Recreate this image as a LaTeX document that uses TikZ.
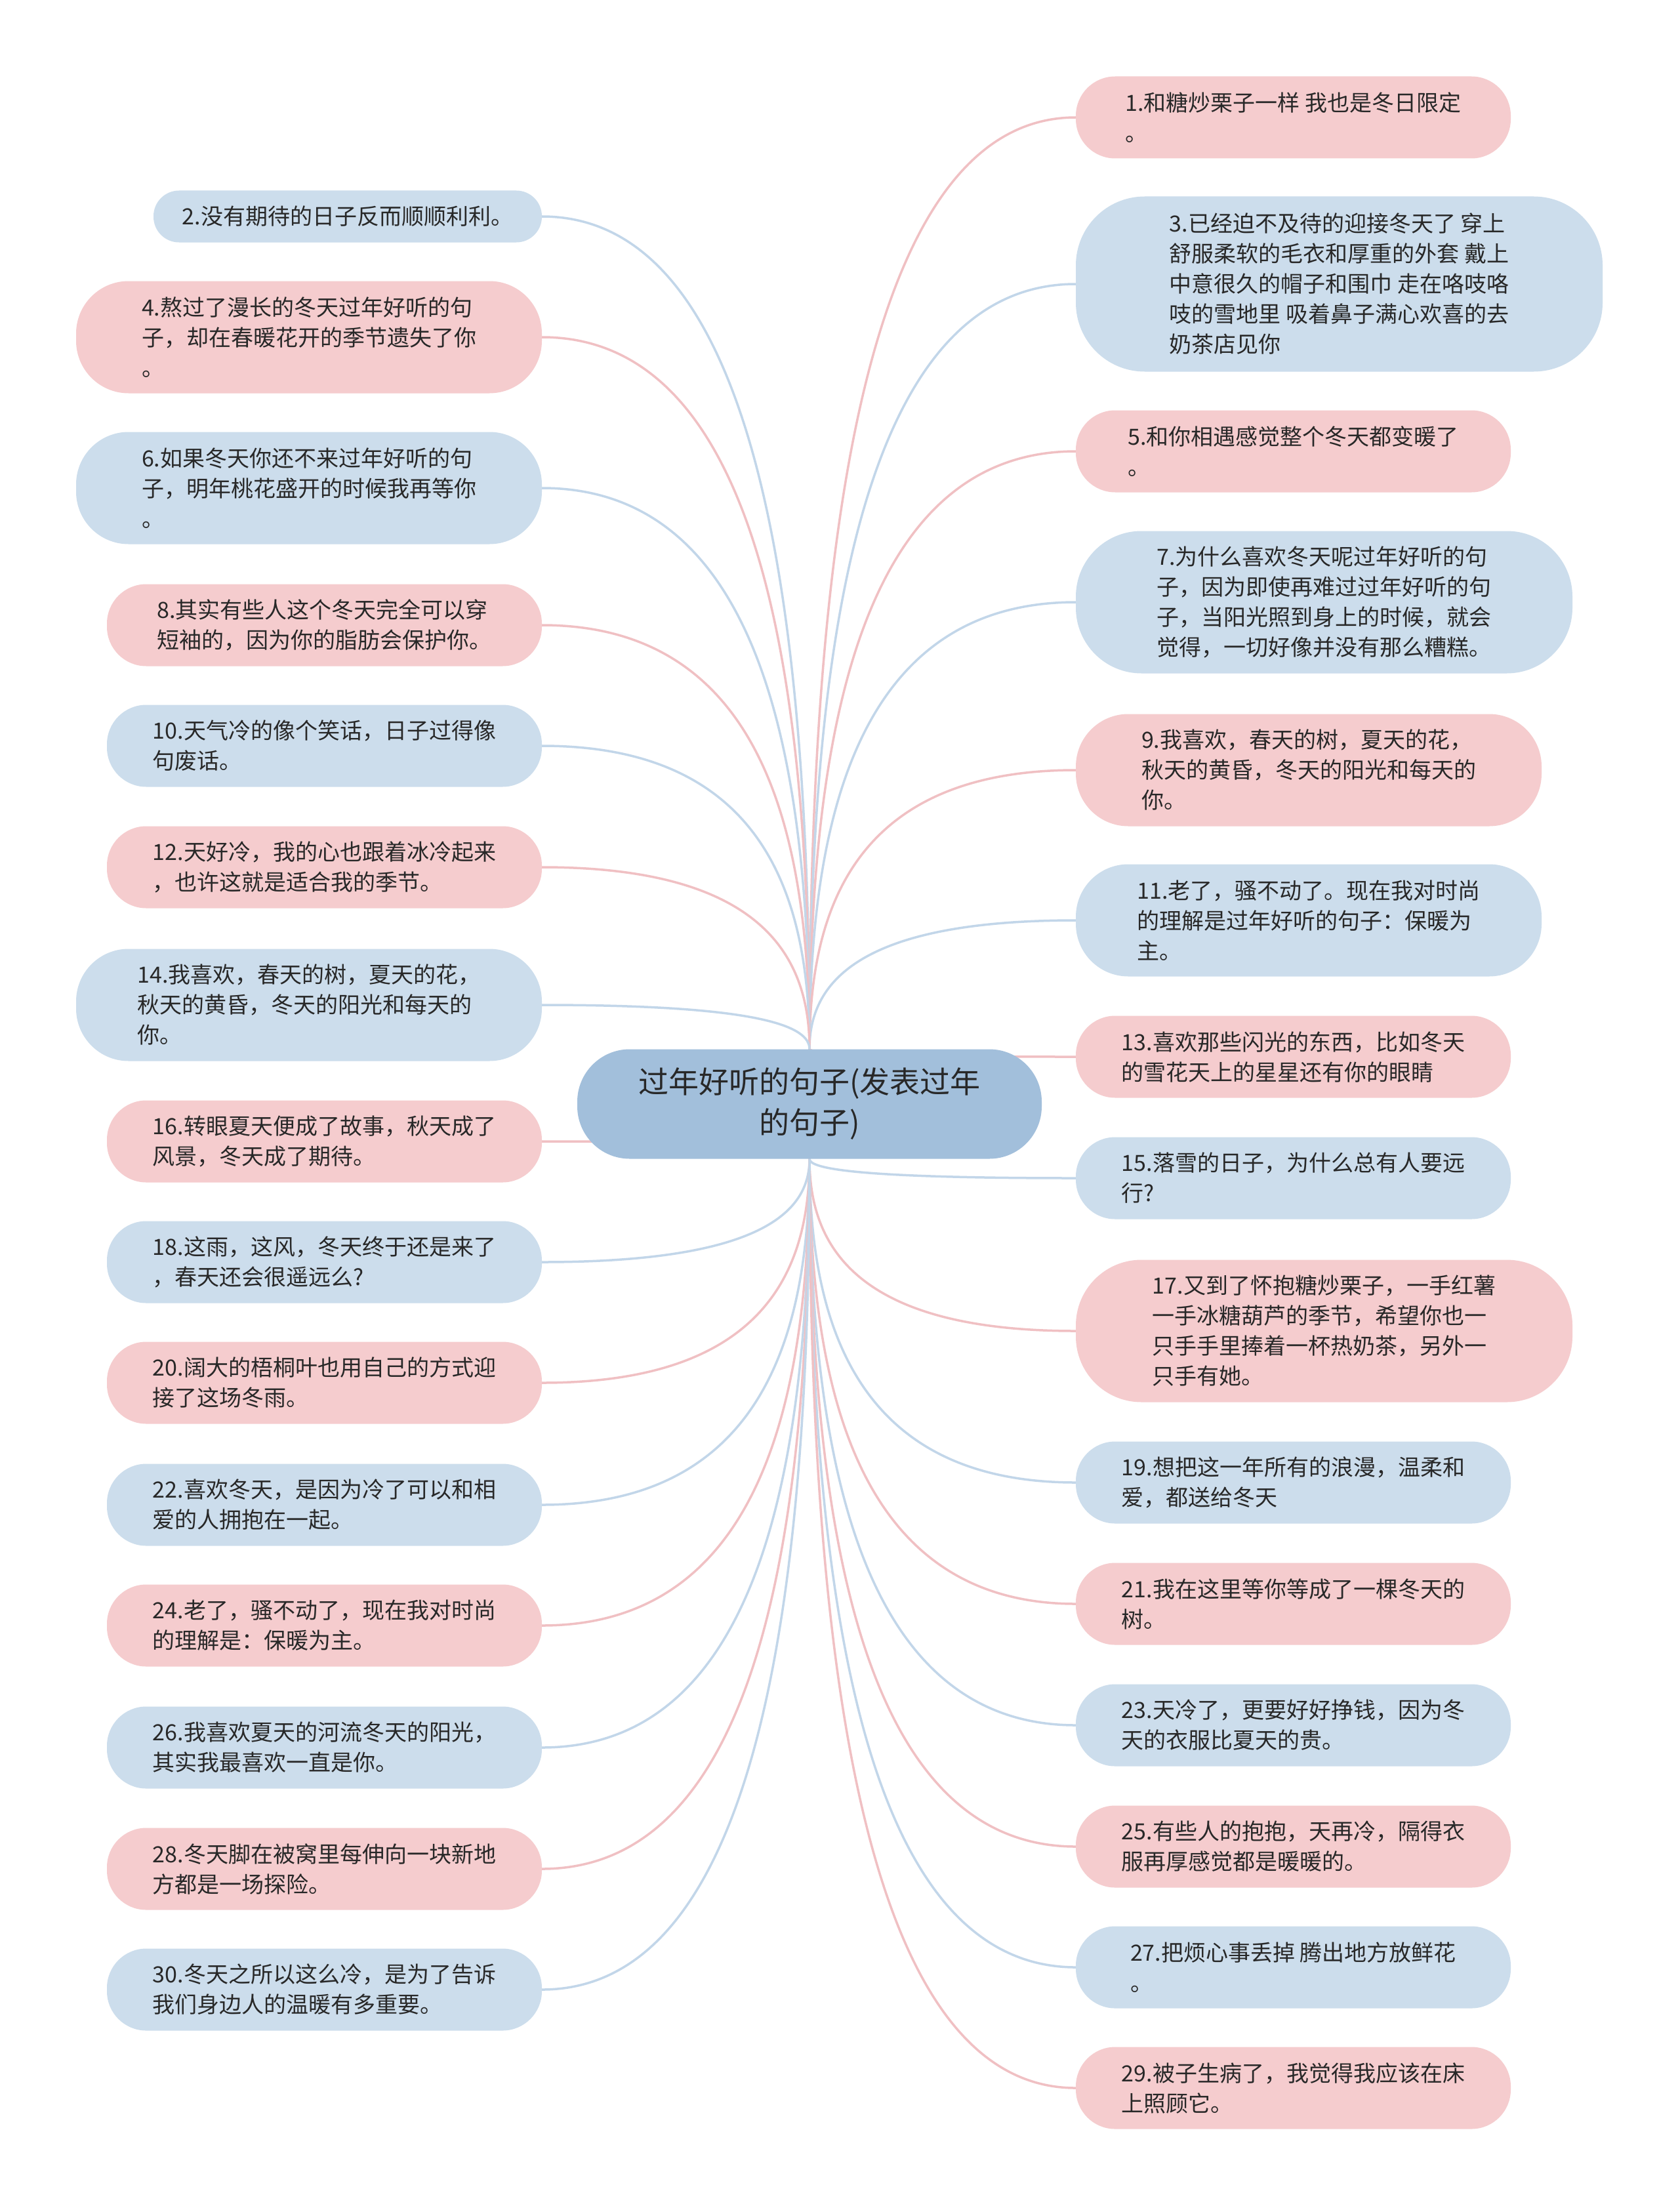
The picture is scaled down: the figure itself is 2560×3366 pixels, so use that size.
\documentclass[tikz,border=0pt]{standalone}
\usepackage{fontspec}
\setmainfont{Noto Sans CJK SC}
\usepackage{xcolor}
\definecolor{mmpink}{RGB}{245,204,206}
\definecolor{mmblue}{RGB}{204,221,236}
\definecolor{mmroot}{RGB}{162,191,219}
\definecolor{mmpinkline}{RGB}{240,192,195}
\definecolor{mmblueline}{RGB}{194,214,233}
\definecolor{mmtext}{RGB}{40,40,40}
\usepackage{tikz}
\usetikzlibrary{calc}
\pgfdeclarelayer{background}
\pgfsetlayers{background,main}
\newcommand{\leaffont}{\fontsize{34}{46}\selectfont}
\newcommand{\rootfont}{\fontsize{46}{62}\selectfont}
\tikzset{
  leaf/.style={align=left, inner sep=0pt, text=mmtext, font=\leaffont},
  pinkleaf/.style={leaf, fill=mmpink},
  blueleaf/.style={leaf, fill=mmblue},
  oneline/.style={minimum height=79, rounded corners=39},
  twoline/.style={minimum height=125, rounded corners=60},
  threeline/.style={minimum height=171, rounded corners=80},
  fourline/.style={minimum height=217, rounded corners=100},
  fiveline/.style={minimum height=267, rounded corners=105},
  mmcurve/.style={to path={.. controls ($(\tikztostart)!0.5!(\tikztostart |- \tikztotarget)$)
      and ($(\tikztotarget)!0.83!(\tikztotarget -| \tikztostart)$) .. (\tikztotarget)}},
  pinkedge/.style={draw=mmpinkline, line width=3.5, mmcurve},
  blueedge/.style={draw=mmblueline, line width=3.5, mmcurve}
}
\begin{document}
\begin{tikzpicture}[x=1pt, y=-1pt]
  \useasboundingbox (0,0) rectangle (2560,3366);

  % Root
  \node[fill=mmroot, text=mmtext, font=\rootfont, align=center, inner sep=0pt,
        minimum width=708, minimum height=167, rounded corners=80] (root) at (1234,1683)
        {过年好听的句子(发表过年\\的句子)};

  % Right column
  \node[pinkleaf, twoline, minimum width=663] (n1) at (1971.5,179) {1.和糖炒栗子一样 我也是冬日限定\\。};
  \node[blueleaf, fiveline, minimum width=803] (n3) at (2041.5,433) {3.已经迫不及待的迎接冬天了 穿上\\舒服柔软的毛衣和厚重的外套 戴上\\中意很久的帽子和围巾 走在咯吱咯\\吱的雪地里 吸着鼻子满心欢喜的去\\奶茶店见你};
  \node[pinkleaf, twoline, minimum width=663] (n5) at (1971.5,688) {5.和你相遇感觉整个冬天都变暖了\\。};
  \node[blueleaf, fourline, minimum width=757] (n7) at (2018.5,918) {7.为什么喜欢冬天呢过年好听的句\\子，因为即使再难过过年好听的句\\子，当阳光照到身上的时候，就会\\觉得，一切好像并没有那么糟糕。};
  \node[pinkleaf, threeline, minimum width=710] (n9) at (1995,1174) {9.我喜欢，春天的树，夏天的花，\\秋天的黄昏，冬天的阳光和每天的\\你。};
  \node[blueleaf, threeline, minimum width=710] (n11) at (1995,1403) {11.老了，骚不动了。现在我对时尚\\的理解是过年好听的句子：保暖为\\主。};
  \node[pinkleaf, twoline, minimum width=663] (n13) at (1971.5,1611) {13.喜欢那些闪光的东西，比如冬天\\的雪花天上的星星还有你的眼睛};
  \node[blueleaf, twoline, minimum width=663] (n15) at (1971.5,1796) {15.落雪的日子，为什么总有人要远\\行?};
  \node[pinkleaf, fourline, minimum width=757] (n17) at (2018.5,2029) {17.又到了怀抱糖炒栗子，一手红薯\\一手冰糖葫芦的季节，希望你也一\\只手手里捧着一杯热奶茶，另外一\\只手有她。};
  \node[blueleaf, twoline, minimum width=663] (n19) at (1971.5,2260) {19.想把这一年所有的浪漫，温柔和\\爱，都送给冬天};
  \node[pinkleaf, twoline, minimum width=663] (n21) at (1971.5,2445) {21.我在这里等你等成了一棵冬天的\\树。};
  \node[blueleaf, twoline, minimum width=663] (n23) at (1971.5,2630) {23.天冷了，更要好好挣钱，因为冬\\天的衣服比夏天的贵。};
  \node[pinkleaf, twoline, minimum width=663] (n25) at (1971.5,2815) {25.有些人的抱抱，天再冷，隔得衣\\服再厚感觉都是暖暖的。};
  \node[blueleaf, twoline, minimum width=663] (n27) at (1971.5,2999) {27.把烦心事丢掉 腾出地方放鲜花\\。};
  \node[pinkleaf, twoline, minimum width=663] (n29) at (1971.5,3183) {29.被子生病了，我觉得我应该在床\\上照顾它。};

  % Left column
  \node[blueleaf, oneline, minimum width=592] (n2) at (530,330) {2.没有期待的日子反而顺顺利利。};
  \node[pinkleaf, threeline, minimum width=710] (n4) at (471,514) {4.熬过了漫长的冬天过年好听的句\\子，却在春暖花开的季节遗失了你\\。};
  \node[blueleaf, threeline, minimum width=710] (n6) at (471,744) {6.如果冬天你还不来过年好听的句\\子，明年桃花盛开的时候我再等你\\。};
  \node[pinkleaf, twoline, minimum width=663] (n8) at (494.5,953) {8.其实有些人这个冬天完全可以穿\\短袖的，因为你的脂肪会保护你。};
  \node[blueleaf, twoline, minimum width=663] (n10) at (494.5,1137) {10.天气冷的像个笑话，日子过得像\\句废话。};
  \node[pinkleaf, twoline, minimum width=663] (n12) at (494.5,1322) {12.天好冷，我的心也跟着冰冷起来\\，也许这就是适合我的季节。};
  \node[blueleaf, threeline, minimum width=710] (n14) at (471,1532) {14.我喜欢，春天的树，夏天的花，\\秋天的黄昏，冬天的阳光和每天的\\你。};
  \node[pinkleaf, twoline, minimum width=663] (n16) at (494.5,1740) {16.转眼夏天便成了故事，秋天成了\\风景，冬天成了期待。};
  \node[blueleaf, twoline, minimum width=663] (n18) at (494.5,1924) {18.这雨，这风，冬天终于还是来了\\，春天还会很遥远么?};
  \node[pinkleaf, twoline, minimum width=663] (n20) at (494.5,2108) {20.阔大的梧桐叶也用自己的方式迎\\接了这场冬雨。};
  \node[blueleaf, twoline, minimum width=663] (n22) at (494.5,2294) {22.喜欢冬天，是因为冷了可以和相\\爱的人拥抱在一起。};
  \node[pinkleaf, twoline, minimum width=663] (n24) at (494.5,2478) {24.老了，骚不动了，现在我对时尚\\的理解是：保暖为主。};
  \node[blueleaf, twoline, minimum width=663] (n26) at (494.5,2664) {26.我喜欢夏天的河流冬天的阳光，\\其实我最喜欢一直是你。};
  \node[pinkleaf, twoline, minimum width=663] (n28) at (494.5,2849) {28.冬天脚在被窝里每伸向一块新地\\方都是一场探险。};
  \node[blueleaf, twoline, minimum width=663] (n30) at (494.5,3033) {30.冬天之所以这么冷，是为了告诉\\我们身边人的温暖有多重要。};

  % Connectors, behind the nodes
  \begin{pgfonlayer}{background}
    \fill[white] (0,0) rectangle (2560,3366);
    \draw[pinkedge] (root.north) to (n1.west);
    \draw[blueedge] (root.north) to (n3.west);
    \draw[pinkedge] (root.north) to (n5.west);
    \draw[blueedge] (root.north) to (n7.west);
    \draw[pinkedge] (root.north) to (n9.west);
    \draw[blueedge] (root.north) to (n11.west);
    \draw[pinkedge] (root.north) to (n13.west);
    \draw[blueedge] (root.south) to (n15.west);
    \draw[pinkedge] (root.south) to (n17.west);
    \draw[blueedge] (root.south) to (n19.west);
    \draw[pinkedge] (root.south) to (n21.west);
    \draw[blueedge] (root.south) to (n23.west);
    \draw[pinkedge] (root.south) to (n25.west);
    \draw[blueedge] (root.south) to (n27.west);
    \draw[pinkedge] (root.south) to (n29.west);

    \draw[blueedge] (root.north) to (n2.east);
    \draw[pinkedge] (root.north) to (n4.east);
    \draw[blueedge] (root.north) to (n6.east);
    \draw[pinkedge] (root.north) to (n8.east);
    \draw[blueedge] (root.north) to (n10.east);
    \draw[pinkedge] (root.north) to (n12.east);
    \draw[blueedge] (root.north) to (n14.east);
    \draw[pinkedge] (root.south) to (n16.east);
    \draw[blueedge] (root.south) to (n18.east);
    \draw[pinkedge] (root.south) to (n20.east);
    \draw[blueedge] (root.south) to (n22.east);
    \draw[pinkedge] (root.south) to (n24.east);
    \draw[blueedge] (root.south) to (n26.east);
    \draw[pinkedge] (root.south) to (n28.east);
    \draw[blueedge] (root.south) to (n30.east);
  \end{pgfonlayer}
\end{tikzpicture}
\end{document}
